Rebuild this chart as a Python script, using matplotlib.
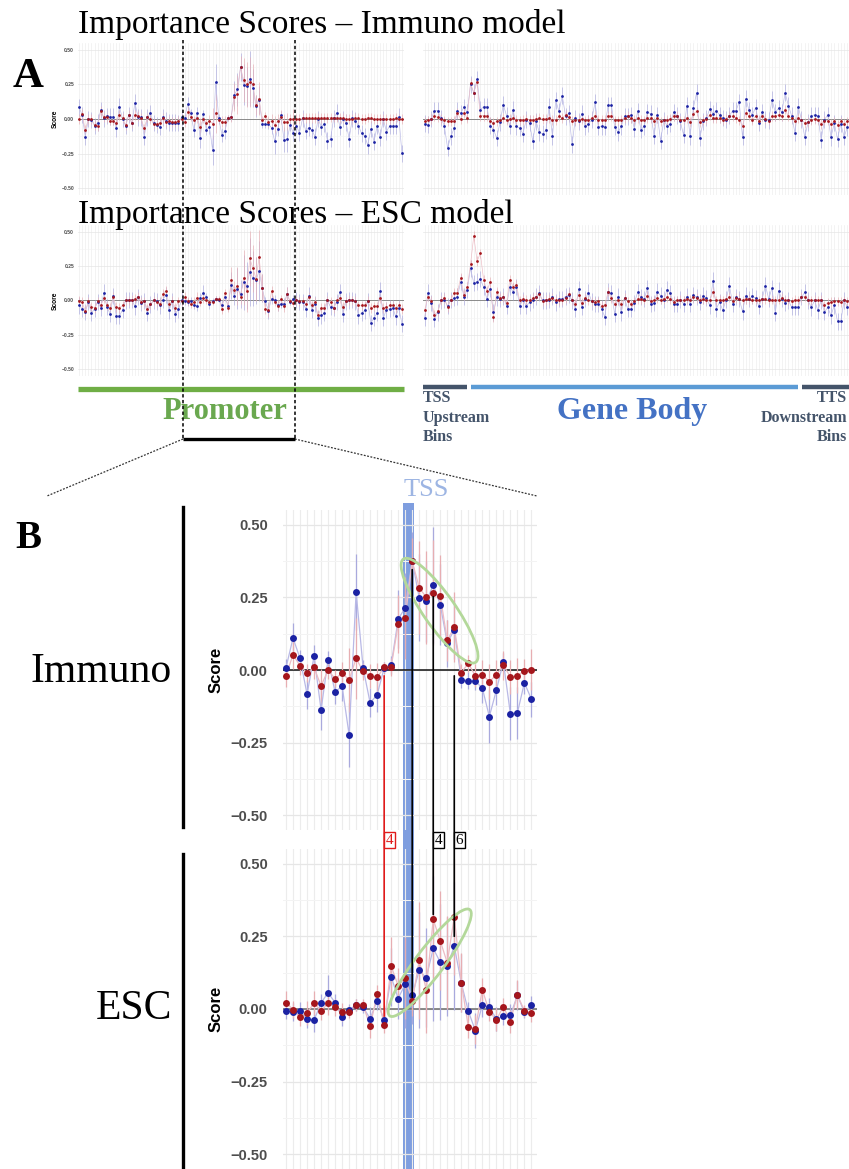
import numpy as np
import matplotlib.pyplot as plt
from matplotlib import transforms
from matplotlib.lines import Line2D
from matplotlib.patches import Ellipse, ConnectionPatch

W, H = 849, 1169
plt.rcParams['font.family'] = ['Liberation Sans', 'DejaVu Sans']
SERIF = ['Liberation Serif', 'DejaVu Serif']

# ---------------- data ----------------
# zoomed promoter window (36 bins around the TSS), Immuno model
imm_win_blue = [0.008, 0.11, 0.04, -0.083, 0.047, -0.137, 0.036, -0.076, -0.055, -0.223, 0.268, 0.006,
                -0.113, -0.085, 0.007, 0.017, 0.175, 0.214, 0.375, 0.248, 0.236, 0.292, 0.225, 0.092,
                0.139, -0.033, -0.037, -0.039, -0.062, -0.16, -0.07, 0.028, -0.15, -0.148, -0.044, -0.1]
imm_win_red = [-0.02, 0.053, 0.014, -0.01, 0.009, -0.055, 0.0, -0.03, -0.011, -0.034, 0.04, -0.005,
               -0.021, -0.025, 0.009, 0.011, 0.157, 0.179, 0.374, 0.283, 0.25, 0.266, 0.255, 0.102,
               0.147, -0.009, 0.023, -0.02, -0.016, -0.04, -0.017, 0.017, -0.024, -0.02, -0.003, 0.001]
imm_win_blue_err = [0.03, 0.05, 0.03, 0.05, 0.04, 0.07, 0.03, 0.04, 0.05, 0.11, 0.13, 0.03,
                    0.05, 0.06, 0.02, 0.03, 0.1, 0.12, 0.1, 0.15, 0.14, 0.2, 0.14, 0.08,
                    0.1, 0.03, 0.03, 0.03, 0.05, 0.09, 0.05, 0.03, 0.09, 0.09, 0.04, 0.06]
imm_win_red_err = [0.04, 0.05, 0.03, 0.03, 0.04, 0.06, 0.03, 0.03, 0.04, 0.11, 0.14, 0.03,
                   0.04, 0.05, 0.02, 0.03, 0.1, 0.14, 0.08, 0.16, 0.16, 0.18, 0.14, 0.07,
                   0.12, 0.03, 0.03, 0.04, 0.05, 0.06, 0.05, 0.05, 0.06, 0.06, 0.04, 0.07]

# zoomed promoter window, ESC model
esc_win_blue = [-0.006, -0.011, -0.006, -0.034, -0.038, 0.021, 0.056, 0.022, -0.029, -0.002, 0.013, 0.006,
                -0.033, 0.028, -0.039, 0.111, 0.036, 0.086, 0.047, 0.133, 0.107, 0.208, 0.161, 0.147,
                0.216, 0.09, -0.007, -0.074, 0.013, 0.007, -0.034, -0.025, -0.022, 0.047, -0.011, 0.013]
esc_win_red = [0.022, -0.002, -0.028, -0.014, 0.021, -0.008, 0.021, 0.006, -0.011, -0.01, 0.014, 0.014,
               -0.06, 0.052, -0.054, 0.147, 0.08, 0.107, 0.026, 0.167, 0.067, 0.308, 0.234, 0.159,
               0.317, 0.091, -0.061, -0.069, 0.067, -0.01, -0.037, 0.008, -0.043, 0.049, -0.006, -0.015]
esc_win_blue_err = [0.03, 0.03, 0.03, 0.03, 0.04, 0.03, 0.06, 0.03, 0.03, 0.02, 0.02, 0.02,
                    0.04, 0.03, 0.03, 0.1, 0.07, 0.15, 0.1, 0.2, 0.17, 0.25, 0.2, 0.17,
                    0.22, 0.1, 0.03, 0.06, 0.04, 0.03, 0.04, 0.03, 0.04, 0.05, 0.02, 0.03]
esc_win_red_err = [0.04, 0.03, 0.03, 0.04, 0.04, 0.03, 0.04, 0.03, 0.03, 0.02, 0.02, 0.02,
                   0.04, 0.03, 0.03, 0.1, 0.06, 0.14, 0.05, 0.2, 0.15, 0.2, 0.17, 0.16,
                   0.2, 0.1, 0.04, 0.05, 0.04, 0.03, 0.04, 0.03, 0.04, 0.05, 0.02, 0.03]

# promoter bins upstream / downstream of the zoomed window
imm_up_blue = [0.085, 0.03, -0.128, 0.0, -0.007, -0.05, -0.027, 0.065, 0.005, 0.022, 0.017, 0.017,
               -0.068, 0.089, 0.0, -0.05, 0.029, -0.03, 0.118, 0.012, 0.012, -0.128, 0.012, 0.041,
               -0.03, -0.043, -0.055, 0.012, -0.012, -0.027, -0.027, -0.027, -0.03, 0.012]
imm_up_red = [0.0, 0.036, -0.08, 0.0, 0.0, -0.043, -0.05, 0.058, 0.012, 0.012, -0.012, -0.012,
              -0.03, 0.029, 0.005, -0.043, 0.029, -0.03, 0.029, 0.024, 0.005, -0.068, 0.012, 0.0,
              -0.036, -0.036, -0.027, 0.005, -0.02, -0.012, -0.022, -0.02, -0.012, 0.0]
imm_down_blue = [-0.048, -0.1, 0.005, -0.085, -0.063, -0.08, -0.128, 0.0, -0.055, -0.036, -0.157, -0.145,
                 0.005, 0.046, -0.055, 0.0, -0.027, -0.145, 0.005, -0.012, -0.05, -0.104, -0.123, -0.19,
                 -0.072, -0.164, -0.05, -0.133, 0.0, -0.092, -0.05, -0.05, -0.05, 0.017, -0.249]
imm_down_red = [0.0, 0.0, 0.005, 0.005, 0.005, 0.005, 0.005, 0.005, 0.005, 0.01, 0.005, 0.01,
                0.01, 0.01, 0.005, 0.005, 0.0, 0.0, 0.0, 0.005, 0.005, 0.0, 0.0, 0.01,
                0.005, 0.0, 0.0, -0.002, 0.0, 0.0, 0.0, 0.0, 0.005, 0.0, 0.0]
esc_up_blue = [-0.036, -0.06, -0.085, -0.012, -0.092, -0.06, -0.012, -0.053, 0.058, -0.048, -0.097, 0.031,
               -0.113, -0.113, -0.068, 0.0, 0.005, 0.005, -0.043, 0.024, -0.02, -0.005, -0.09, -0.029,
               0.0, -0.007, -0.036, 0.007, 0.041, -0.072, -0.005, -0.097, -0.065, 0.0]
esc_up_red = [-0.005, -0.012, -0.077, -0.007, -0.048, -0.053, -0.007, -0.036, 0.017, -0.036, -0.053, 0.024,
              -0.048, -0.053, -0.036, 0.0, 0.0, 0.005, 0.012, 0.029, -0.012, -0.007, -0.06, -0.029,
              0.0, -0.012, -0.024, 0.048, 0.072, -0.029, -0.005, -0.053, -0.007, -0.005]
esc_down_blue = [0.005, -0.012, -0.012, -0.06, 0.036, -0.068, -0.024, -0.126, -0.109, -0.092, 0.0, -0.048,
                 -0.053, -0.012, 0.06, -0.097, -0.007, 0.0, 0.002, -0.007, -0.109, -0.092, -0.072, -0.005,
                 -0.164, -0.126, -0.092, 0.072, -0.126, -0.068, -0.06, -0.053, -0.116, -0.056, -0.169]
esc_down_red = [0.0, -0.007, -0.007, -0.029, 0.029, -0.036, -0.012, -0.109, -0.056, -0.053, 0.0, -0.012,
                -0.053, 0.0, 0.017, -0.048, -0.007, 0.005, 0.0, -0.005, -0.036, -0.036, -0.036, -0.005,
                -0.056, -0.043, -0.043, 0.019, -0.056, -0.048, -0.036, -0.036, -0.053, -0.036, -0.06]

# TSS upstream + gene body + TTS downstream bins
imm_gene_blue = [-0.034, -0.04, 0.0, 0.06, 0.06, 0.007, -0.048, -0.21, -0.126, -0.068, 0.06, 0.043,
                 0.085, 0.048, 0.25, 0.19, 0.29, 0.068, 0.09, 0.09, -0.048, -0.077, -0.138, -0.024,
                 0.104, 0.024, -0.048, 0.068, -0.053, -0.065, -0.106, -0.005, -0.03, -0.16, -0.017, -0.097,
                 -0.106, -0.082, 0.09, -0.126, 0.135, 0.055, 0.17, 0.02, 0.043, -0.184, 0.007, -0.017,
                 0.039, -0.053, -0.034, -0.005, 0.12, -0.058, -0.053, -0.058, 0.1, 0.1, -0.058, -0.097,
                 -0.053, 0.02, 0.02,
                 0.03, -0.07, 0.055, -0.077, -0.053, 0.048, 0.039, -0.12, 0.03, -0.157, -0.01, -0.048,
                 -0.034, 0.048, 0.024, -0.017, -0.113, 0.097, -0.126, 0.08, 0.19, -0.138, -0.017, 0.007,
                 0.072, 0.039, 0.06, 0.03, 0.007, -0.005, 0.024, 0.06, 0.06, 0.123, -0.13, 0.147,
                 0.063, 0.03, 0.082, -0.03, 0.048, -0.005, -0.01, 0.14, 0.048, 0.077, 0.048, 0.19,
                 0.097, 0.024, -0.1, 0.09, -0.005, -0.13, -0.024, 0.024, 0.03, 0.024, -0.15, -0.005,
                 0.03, -0.133, -0.03, -0.145, -0.034, -0.13, -0.06]
imm_gene_red = [-0.017, -0.01, 0.0, 0.02, 0.012, 0.002, -0.01, -0.017, -0.017, -0.012, 0.043, 0.0,
                0.043, 0.007, 0.26, 0.19, 0.265, 0.024, 0.024, 0.024, -0.017, -0.029, -0.017, -0.005,
                0.007, -0.01, 0.0, 0.007, -0.005, -0.01, -0.005, 0.0, -0.005, -0.005, 0.0, 0.007,
                0.0, 0.0, 0.007, -0.005, -0.005, 0.02, 0.007, 0.03, 0.012, -0.012, -0.005, -0.005,
                0.0, -0.01, -0.005, 0.007, 0.024, -0.005, -0.005, -0.005, 0.024, 0.024, -0.01, -0.01,
                -0.005, 0.007, 0.02,
                0.007, -0.005, 0.007, -0.005, -0.01, 0.007, 0.007, -0.017, 0.007, -0.017, -0.01, -0.005,
                0.0, 0.024, 0.02, -0.01, -0.01, 0.007, -0.024, 0.039, 0.055, -0.024, -0.005, 0.002,
                0.03, 0.007, 0.007, 0.007, -0.005, 0.0, 0.02, 0.02, 0.007, -0.01, -0.048, 0.043,
                0.02, -0.005, 0.02, -0.012, 0.02, 0.0, -0.012, 0.02, 0.02, 0.03, 0.024, 0.068,
                0.02, 0.007, -0.017, 0.007, -0.005, -0.029, -0.024, -0.01, 0.0, -0.01, -0.034, -0.012,
                -0.012, -0.034, -0.017, -0.041, -0.017, -0.034, -0.017]
esc_gene_blue = [-0.128, 0.058, -0.019, -0.135, -0.087, 0.0, 0.005, -0.039, 0.005, 0.017, 0.029, 0.133,
                 0.029, 0.077, 0.234, 0.126, 0.138, 0.155, 0.097, 0.01, 0.082, -0.087, 0.022, 0.01,
                 0.029, -0.039, 0.097, 0.065, 0.097, -0.039, 0.005, -0.039, -0.014, 0.005, 0.029, 0.053,
                 0.0, 0.0, 0.005, 0.029, -0.014, 0.01, 0.01, 0.029, 0.039, 0.0, -0.06, 0.082,
                 -0.048, 0.01, 0.058, -0.007, -0.024, -0.024, -0.06, -0.121, 0.065, 0.053, -0.097, 0.029,
                 -0.087, 0.017, -0.063,
                 -0.06, -0.017, 0.06, 0.024, 0.012, 0.089, -0.024, -0.017, 0.065, 0.036, 0.007, 0.08,
                 0.053, -0.024, -0.024, 0.007, -0.024, 0.029, -0.024, 0.041, 0.024, -0.012, 0.036, 0.017,
                 -0.036, 0.145, -0.06, -0.012, -0.072, 0.007, 0.109, -0.024, 0.024, 0.012, -0.08, 0.036,
                 0.012, 0.031, 0.017, -0.041, 0.012, 0.109, 0.012, 0.089, -0.089, 0.072, 0.012, -0.017,
                 0.0, -0.048, -0.048, -0.048, 0.024, 0.06, 0.0, -0.05, 0.0, -0.072, 0.0, -0.085,
                 -0.05, -0.109, -0.036, -0.152, -0.152, 0.0, -0.048]
esc_gene_red = [-0.072, 0.029, -0.005, -0.104, -0.08, 0.0, 0.017, -0.048, 0.005, 0.058, 0.058, 0.167,
                0.041, 0.097, 0.263, 0.471, 0.287, 0.343, 0.15, 0.07, 0.133, -0.121, 0.065, 0.017,
                0.024, -0.019, 0.15, 0.101, 0.114, 0.0, 0.01, 0.005, 0.0, 0.017, 0.029, 0.048,
                -0.007, 0.005, 0.01, 0.017, 0.0, 0.005, 0.0, 0.017, 0.048, 0.0, -0.024, 0.041,
                -0.019, 0.017, 0.0, -0.007, -0.014, -0.007, -0.039, -0.031, 0.065, 0.017, -0.027, 0.0,
                -0.024, 0.017, -0.007,
                -0.024, -0.007, 0.012, 0.012, 0.007, 0.036, -0.007, 0.0, 0.017, 0.007, 0.012, 0.024,
                0.012, -0.012, 0.0, 0.007, 0.0, 0.012, 0.007, 0.024, 0.017, 0.007, 0.012, 0.007,
                0.0, 0.06, 0.0, 0.007, 0.0, 0.012, 0.024, -0.007, 0.017, 0.012, 0.0, 0.012,
                0.012, 0.007, 0.007, 0.0, 0.012, 0.012, 0.007, 0.007, 0.0, 0.007, 0.017, 0.0,
                0.0, -0.007, 0.007, 0.0, 0.024, 0.029, 0.005, 0.0, 0.007, 0.0, 0.005, -0.036,
                -0.017, -0.012, -0.007, -0.007, -0.012, 0.0, -0.007]

# typical error half-widths for the overview panels outside the zoomed window
overview_err_blue = 0.06
overview_err_red = 0.035

# bins per gene-side region: TSS upstream, gene body, TTS downstream
gene_region_bins = [14, 101, 15]
gene_region_names = ['TSS\nUpstream\nBins', 'Gene Body', 'TTS\nDownstream\nBins']

# bins linked between the Immuno and ESC zoom panels
link_bins = [14, 18, 21, 24]
link_top = [-0.02, 0.345, 0.252, -0.02]
link_bottom = [-0.025, 0.04, 0.325, 0.25]
link_labels = ['4', '', '4', '6']
link_colors = ['#e01b1b', 'black', 'black', 'black']

tss_span = (16.7, 18.25)
yticks = [-0.5, -0.25, 0.0, 0.25, 0.5]
ytick_labels = ['\u22120.50', '\u22120.25', '0.00', '0.25', '0.50']

BLUE = '#1b22a3'
RED = '#a5161c'
BLUE_LIGHT = '#a9a9dd'
RED_LIGHT = '#e7aeb2'


def px_axes(fig, left, top, right, bottom):
    return fig.add_axes([left / W, 1 - bottom / H, (right - left) / W, (bottom - top) / H])


def style_axes(ax, xlim, vgrid_lw, hgrid_lw):
    ax.set_xlim(*xlim)
    ax.set_ylim(-0.55, 0.55)
    ax.set_xticks(np.arange(int(np.ceil(xlim[0])), int(np.floor(xlim[1])) + 1))
    ax.set_yticks(yticks)
    ax.set_yticks(np.arange(-0.375, 0.5, 0.25), minor=True)
    ax.grid(axis='x', which='major', color='#ececec', lw=vgrid_lw)
    ax.grid(axis='y', which='major', color='#e6e6e6', lw=hgrid_lw)
    ax.grid(axis='y', which='minor', color='#f3f3f3', lw=hgrid_lw * 0.8)
    ax.set_axisbelow(True)
    for s in ax.spines.values():
        s.set_visible(False)
    ax.tick_params(which='both', length=0, labelbottom=False, labelleft=False)
    ax.set_facecolor('none')


def plot_scores(ax, blue, red, blue_err, red_err, ms, lw, zero_color, zero_lw):
    blue, red = np.asarray(blue), np.asarray(red)
    x = np.arange(len(blue))
    ax.axhline(0, color=zero_color, lw=zero_lw, zorder=1)
    ax.vlines(x, blue - blue_err, blue + blue_err, color=BLUE_LIGHT, lw=lw, zorder=2)
    ax.vlines(x, red - red_err, red + red_err, color=RED_LIGHT, lw=lw, zorder=2)
    ax.plot(x, blue, color='#b9b9e6', lw=lw, zorder=2)
    ax.plot(x, red, color='#ecbcc4', lw=lw, zorder=2)
    ax.plot(x, blue, 'o', ms=ms, color=BLUE, mew=0, zorder=3)
    ax.plot(x, red, 'o', ms=ms, color=RED, mew=0, zorder=4)


def left_ticks(ax, size, pad, label_size, labelpad):
    ax.tick_params(labelleft=True, labelsize=size, pad=pad, labelcolor='#4d4d4d')
    ax.set_yticklabels(ytick_labels, fontweight='bold')
    ax.set_ylabel('Score', fontsize=label_size, fontweight='bold', labelpad=labelpad)


fig = plt.figure(figsize=(W / 100, H / 100), dpi=100)

# ---------------- panel A: overview ----------------
n_win = len(imm_win_blue)
n_up = len(imm_up_blue)
prom = {
    'imm': (imm_up_blue + imm_win_blue + imm_down_blue,
            imm_up_red + imm_win_red + imm_down_red,
            np.concatenate([np.full(n_up, overview_err_blue), imm_win_blue_err,
                            np.full(len(imm_down_blue), overview_err_blue)]),
            np.concatenate([np.full(n_up, overview_err_red), imm_win_red_err,
                            np.full(len(imm_down_red), overview_err_red)])),
    'esc': (esc_up_blue + esc_win_blue + esc_down_blue,
            esc_up_red + esc_win_red + esc_down_red,
            np.concatenate([np.full(n_up, overview_err_blue), esc_win_blue_err,
                            np.full(len(esc_down_blue), overview_err_blue)]),
            np.concatenate([np.full(n_up, overview_err_red), esc_win_red_err,
                            np.full(len(esc_down_red), overview_err_red)])),
}
gene = {'imm': (imm_gene_blue, imm_gene_red), 'esc': (esc_gene_blue, esc_gene_red)}

n_prom = len(prom['imm'][0])
n_gene = len(imm_gene_blue)
rows = [('imm', 43, 195, 'Importance Scores \u2013 Immuno model', 33),
        ('esc', 225, 376, 'Importance Scores \u2013 ESC model', 223)]
prom_axes = []
gene_axes = []
for key, top, bottom, title, title_y in rows:
    axp = px_axes(fig, 77.5, top, 403.5, bottom)
    style_axes(axp, (-0.5, n_prom - 0.5), 0.45, 0.5)
    b, r, be, re = prom[key]
    plot_scores(axp, b, r, be, re, ms=2.0, lw=0.45, zero_color='#8a8a8a', zero_lw=0.7)
    left_ticks(axp, 3.6, 2.5, 4.8, 1.5)
    prom_axes.append(axp)

    axg = px_axes(fig, 423, top, 849, bottom)
    style_axes(axg, (-0.5, n_gene - 0.5), 0.45, 0.5)
    gb, gr = gene[key]
    plot_scores(axg, gb, gr, overview_err_blue, overview_err_red,
                ms=2.0, lw=0.45, zero_color='#8a8a8a', zero_lw=0.7)
    gene_axes.append(axg)

    fig.text(78 / W, 1 - title_y / H, title, fontsize=24, family=SERIF, va='baseline', ha='left')

fig.text(13 / W, 1 - 87 / H, 'A', fontsize=31, family=SERIF, fontweight='bold', va='baseline')
fig.text(15 / W, 1 - 548 / H, 'B', fontsize=28, family=SERIF, fontweight='bold', va='baseline')

# promoter bar and window bracket
ax_p = prom_axes[0]
ax_g = gene_axes[0]
bar_y = 1 - 388.5 / H
bt_p = transforms.blended_transform_factory(ax_p.transData, fig.transFigure)
bt_g = transforms.blended_transform_factory(ax_g.transData, fig.transFigure)
fig.add_artist(Line2D([-0.5, n_prom - 0.5], [bar_y, bar_y], transform=bt_p,
                      color='#6fae45', lw=3.8, solid_capstyle='butt'))
win_lo, win_hi = n_up - 0.5, n_up + n_win - 0.5
bracket_y = 1 - 439 / H
for xb in (win_lo, win_hi):
    fig.add_artist(Line2D([xb, xb], [1 - 40 / H, bracket_y], transform=bt_p, color='black',
                          lw=1.1, ls=(0, (2.2, 1.6)), zorder=10))
fig.add_artist(Line2D([win_lo, win_hi], [bracket_y, bracket_y], transform=bt_p, color='black',
                      lw=2.4, solid_capstyle='butt', zorder=10))
fig.text(225 / W, 1 - 412 / H, 'Promoter', fontsize=22, family=SERIF, fontweight='bold',
         color='#6aa84f', ha='center', va='center')

# gene-side region bars
edges = np.concatenate([[0], np.cumsum(gene_region_bins)]) - 0.5
region_colors = ['#44546a', '#5b9bd5', '#44546a']
for i, name in enumerate(gene_region_names):
    lo = edges[i] + (0.0 if i == 0 else 0.7)
    hi = edges[i + 1] - (0.0 if i == len(gene_region_names) - 1 else 0.7)
    fig.add_artist(Line2D([lo, hi], [1 - 386.5 / H] * 2, transform=bt_g,
                          color=region_colors[i], lw=3.2, solid_capstyle='butt'))
fig.text(423 / W, 1 - 390 / H, gene_region_names[0], fontsize=11.5, family=SERIF, fontweight='bold',
         color='#44546a', ha='left', va='top', linespacing=1.3)
fig.text(847 / W, 1 - 390 / H, gene_region_names[2], fontsize=11.5, family=SERIF, fontweight='bold',
         color='#44546a', ha='right', va='top', linespacing=1.3, multialignment='right')
fig.text(632 / W, 1 - 412 / H, gene_region_names[1], fontsize=23, family=SERIF, fontweight='bold',
         color='#4472c4', ha='center', va='center')

# ---------------- panel B: zoomed promoter window ----------------
b_xlim = (-0.43, 35.8)
ax_band = px_axes(fig, 283, 503, 537, 1169)
ax_band.set_xlim(*b_xlim)
ax_band.set_ylim(0, 1)
ax_band.axis('off')
ax_band.axvspan(*tss_span, color='#7194dc', alpha=0.9, lw=0)
ax_band.set_zorder(0)
fig.text(426 / W, 1 - 490 / H, 'TSS', fontsize=19, family=SERIF, color='#9db5e3',
         ha='center', va='center')

ax_top = px_axes(fig, 283, 510, 537, 830)
ax_bot = px_axes(fig, 283, 849, 537, 1169)
for ax, b, r, be, re, zc in [(ax_top, imm_win_blue, imm_win_red, imm_win_blue_err, imm_win_red_err, '#111111'),
                             (ax_bot, esc_win_blue, esc_win_red, esc_win_blue_err, esc_win_red_err, '#6b6b6b')]:
    ax.set_zorder(1)
    style_axes(ax, b_xlim, 0.8, 0.9)
    plot_scores(ax, b, r, np.asarray(be), np.asarray(re), ms=5.0, lw=0.9, zero_color=zc, zero_lw=1.1)
    left_ticks(ax, 10.5, 11, 12, 5)

fig.text(172 / W, 1 - 672 / H, 'Immuno', fontsize=30, family=SERIF, ha='right', va='center')
fig.text(172 / W, 1 - 1009 / H, 'ESC', fontsize=30, family=SERIF, ha='right', va='center')
fig.add_artist(Line2D([183 / W] * 2, [1 - 507 / H, 1 - 827 / H], color='black', lw=2.4))
fig.add_artist(Line2D([183 / W] * 2, [1 - 854 / H, 0], color='black', lw=2.4))

# dotted lines fanning out from the bracket to panel B
to_fig = fig.transFigure.inverted()
for xb, x_end in ((win_lo, 47), (win_hi, 537)):
    xf = to_fig.transform(ax_p.transData.transform((xb, 0)))[0]
    fig.add_artist(Line2D([xf, x_end / W], [bracket_y, 1 - 496 / H], color='#333333',
                          lw=0.9, ls=(0, (1.5, 1.2))))

# links between the two zoom panels
bt_b = transforms.blended_transform_factory(ax_top.transData, fig.transFigure)
for xb, yt, yb, lab, col in zip(link_bins, link_top, link_bottom, link_labels, link_colors):
    con = ConnectionPatch(xyA=(xb, yt), coordsA=ax_top.transData, xyB=(xb, yb),
                          coordsB=ax_bot.transData, color=col, lw=1.2, zorder=20)
    fig.add_artist(con)
    if lab:
        fig.text(xb + 0.22, 1 - 840 / H, lab, transform=bt_b,
                 fontsize=11, family=SERIF, color=col, ha='left', va='center', zorder=21,
                 bbox=dict(boxstyle='square,pad=0.12', fc='white', ec=col, lw=1.0))

# highlighted groups of bins
ellipses = [(ax_top, 21.9, 0.204, 1.26, 0.32, -55), (ax_bot, 20.5, 0.159, 1.33, 0.28, 53)]
for ax, xc, yc, w, h, ang in ellipses:
    tr = fig.dpi_scale_trans + transforms.ScaledTranslation(xc, yc, ax.transData)
    ax.add_patch(Ellipse((0, 0), w, h, angle=ang, transform=tr, fill=False,
                         ec='#b3d89a', lw=2.0, clip_on=False, zorder=6))

fig.savefig('out.png', dpi=100)
